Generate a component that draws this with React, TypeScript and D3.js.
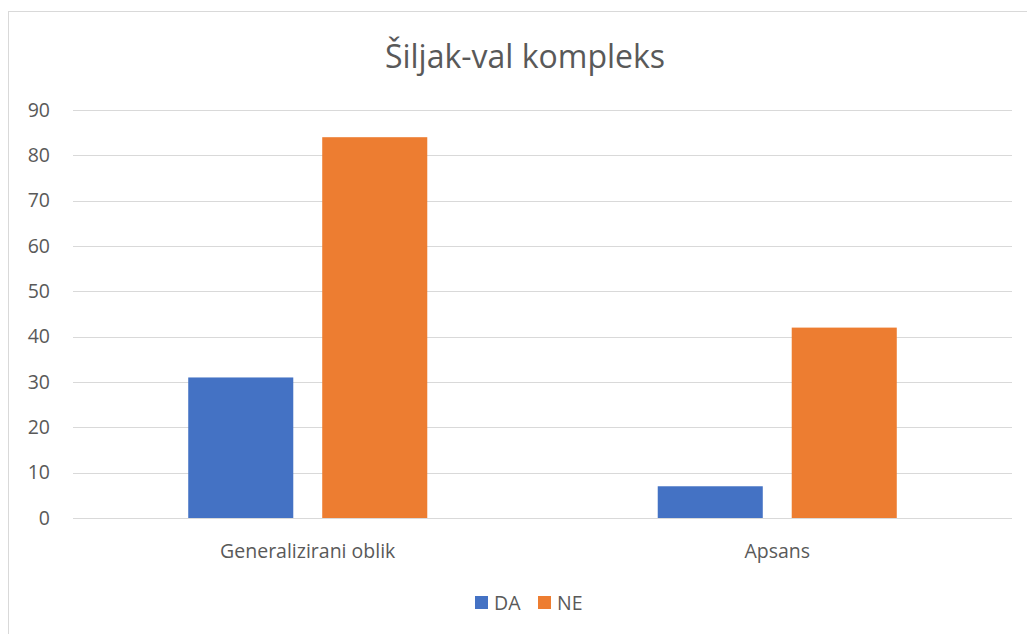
import { useEffect, useRef } from "react";
import * as d3 from "d3";

const categories = ["Generalizirani oblik", "Apsans"];
const seriesNames = ["DA", "NE"];
const daValues = [31, 7];
const neValues = [84, 42];
const yTicks = [0, 10, 20, 30, 40, 50, 60, 70, 80, 90];
const colors = ["#4472C4", "#ED7D31"];

const W = 1027;
const H = 634;
const FONT = "'Open Sans', 'Noto Sans', sans-serif";

export default function App() {
  const svgRef = useRef<SVGSVGElement | null>(null);

  useEffect(() => {
    if (!svgRef.current) return;
    const svg = d3.select(svgRef.current);
    svg.selectAll("*").remove();

    const plot = { left: 73, right: 1012, top: 110, bottom: 518 };

    svg.append("rect").attr("width", W).attr("height", H).attr("fill", "#fff");
    svg
      .append("rect")
      .attr("x", 8.5)
      .attr("y", 11.5)
      .attr("width", W + 10)
      .attr("height", H + 10)
      .attr("fill", "none")
      .attr("stroke", "#d9d9d9")
      .attr("stroke-width", 1);

    const x0 = d3.scaleBand().domain(categories).range([plot.left, plot.right]).padding(0);
    const x1 = d3
      .scaleBand()
      .domain(seriesNames)
      .range([0, x0.bandwidth()])
      .paddingInner(0.216)
      .paddingOuter(0.86);
    const y = d3.scaleLinear().domain([0, 90]).range([plot.bottom, plot.top]);

    svg
      .append("g")
      .selectAll("line")
      .data(yTicks)
      .join("line")
      .attr("x1", plot.left)
      .attr("x2", plot.right)
      .attr("y1", (d) => Math.round(y(d)) + 0.5)
      .attr("y2", (d) => Math.round(y(d)) + 0.5)
      .attr("stroke", "#d9d9d9")
      .attr("stroke-width", 1);

    svg
      .append("g")
      .selectAll("text")
      .data(yTicks)
      .join("text")
      .attr("x", 50)
      .attr("y", (d) => y(d))
      .attr("dy", "0.35em")
      .attr("text-anchor", "end")
      .attr("fill", "#595959")
      .attr("font-family", FONT)
      .attr("font-size", 19.5)
      .text((d) => String(d));

    const rows = categories.map((cat, i) => ({
      cat,
      values: [daValues[i], neValues[i]],
    }));

    const groups = svg
      .append("g")
      .selectAll("g")
      .data(rows)
      .join("g")
      .attr("transform", (d) => `translate(${x0(d.cat)},0)`);

    groups
      .selectAll("rect")
      .data((d) => d.values.map((v, j) => ({ name: seriesNames[j], value: v, color: colors[j] })))
      .join("rect")
      .attr("x", (d) => x1(d.name) as number)
      .attr("y", (d) => y(d.value))
      .attr("width", x1.bandwidth())
      .attr("height", (d) => plot.bottom - y(d.value))
      .attr("fill", (d) => d.color);

    svg
      .append("g")
      .selectAll("text")
      .data(categories)
      .join("text")
      .attr("x", (d) => (x0(d) as number) + x0.bandwidth() / 2)
      .attr("y", 551)
      .attr("dy", "0.35em")
      .attr("text-anchor", "middle")
      .attr("fill", "#595959")
      .attr("font-family", FONT)
      .attr("font-size", 19.5)
      .text((d) => d);

    svg
      .append("text")
      .attr("x", 525)
      .attr("y", 57)
      .attr("dy", "0.35em")
      .attr("text-anchor", "middle")
      .attr("fill", "#595959")
      .attr("font-family", FONT)
      .attr("font-size", 32)
      .text("Šiljak-val kompleks");

    const legendX = [475, 538];
    const legend = svg
      .append("g")
      .selectAll("g")
      .data(seriesNames)
      .join("g")
      .attr("transform", (_, i) => `translate(${legendX[i]},596)`);
    legend
      .append("rect")
      .attr("width", 13)
      .attr("height", 13)
      .attr("fill", (_, i) => colors[i]);
    legend
      .append("text")
      .attr("x", 19)
      .attr("y", 7)
      .attr("dy", "0.35em")
      .attr("fill", "#595959")
      .attr("font-family", FONT)
      .attr("font-size", 19.5)
      .text((d) => d);
  }, []);

  return (
    <svg
      ref={svgRef}
      width={W}
      height={H}
      style={{ position: "fixed", left: 0, top: 0, display: "block" }}
    />
  );
}
